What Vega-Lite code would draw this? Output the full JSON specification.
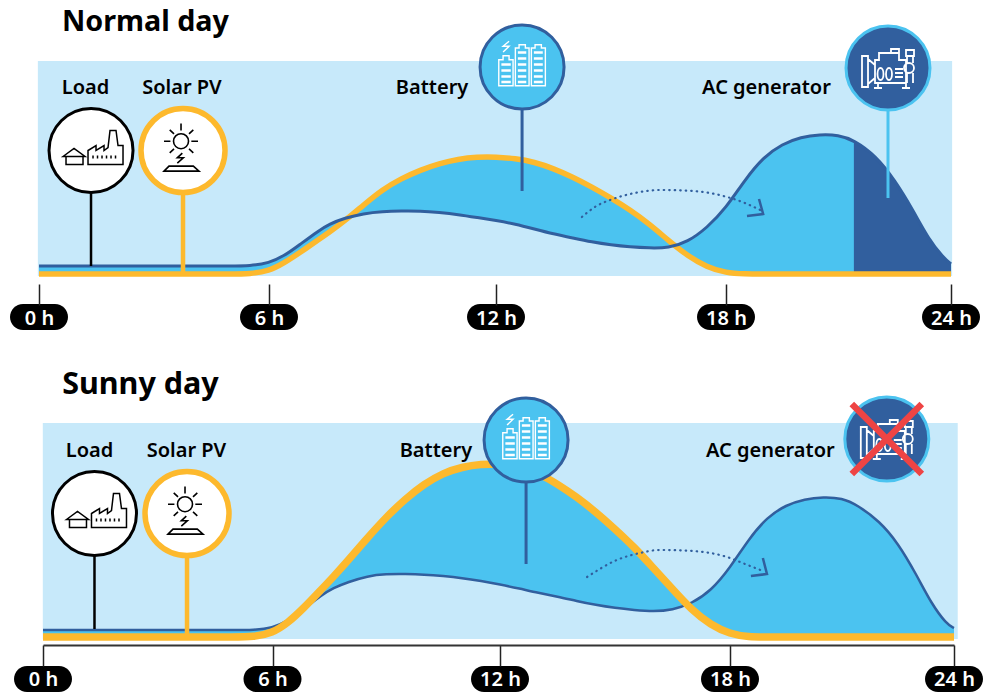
{"$schema":"https://vega.github.io/schema/vega-lite/v6.json","padding":0,"spacing":62,"bounds":"flush","background":"white","config":{"view":{"stroke":null}},
"datasets":{
"normal":[{"hour":0,"load":8,"solar":0},{"hour":1,"load":8,"solar":0},{"hour":2,"load":8,"solar":0},{"hour":3,"load":8,"solar":0},{"hour":4,"load":8,"solar":0},{"hour":5,"load":8,"solar":0},{"hour":5.5,"load":8,"solar":0},{"hour":6,"load":11,"solar":3},{"hour":6.4,"load":18,"solar":11},{"hour":6.8,"load":29,"solar":21},{"hour":7.3,"load":43,"solar":34},{"hour":7.6,"load":50,"solar":42},{"hour":8,"load":56,"solar":53},{"hour":8.5,"load":60.5,"solar":69},{"hour":9,"load":62.5,"solar":84.5},{"hour":9.5,"load":63,"solar":95.5},{"hour":10,"load":63,"solar":104},{"hour":10.5,"load":61.5,"solar":110.5},{"hour":11,"load":59.5,"solar":115},{"hour":11.5,"load":56.5,"solar":117},{"hour":12,"load":53.5,"solar":117},{"hour":12.5,"load":50,"solar":115.5},{"hour":13,"load":45,"solar":112},{"hour":13.5,"load":40,"solar":105.5},{"hour":14,"load":36,"solar":97},{"hour":14.5,"load":32,"solar":87},{"hour":15,"load":29,"solar":76},{"hour":15.5,"load":27,"solar":64},{"hour":16,"load":26,"solar":50},{"hour":16.5,"load":26,"solar":33.5},{"hour":17,"load":32,"solar":18},{"hour":17.5,"load":46,"solar":7},{"hour":18,"load":66,"solar":1},{"hour":18.5,"load":94,"solar":0},{"hour":19,"load":117,"solar":0},{"hour":19.5,"load":130,"solar":0},{"hour":20,"load":137,"solar":0},{"hour":20.5,"load":139.5,"solar":0},{"hour":21,"load":139,"solar":0},{"hour":21.41,"load":134,"solar":0},{"hour":22,"load":118,"solar":0},{"hour":22.5,"load":94,"solar":0},{"hour":23,"load":63,"solar":0},{"hour":23.4,"load":35,"solar":0},{"hour":23.8,"load":16,"solar":0},{"hour":24,"load":10,"solar":0}],
"sunny":[{"hour":0,"load":7,"solar":0},{"hour":1,"load":7,"solar":0},{"hour":2,"load":7,"solar":0},{"hour":3,"load":7,"solar":0},{"hour":4,"load":7,"solar":0},{"hour":5,"load":7,"solar":0},{"hour":5.5,"load":7,"solar":0},{"hour":6,"load":9,"solar":4},{"hour":6.4,"load":16,"solar":14},{"hour":6.8,"load":27,"solar":28},{"hour":7.3,"load":42,"solar":48},{"hour":7.6,"load":49,"solar":60},{"hour":8,"load":55,"solar":77},{"hour":8.5,"load":61,"solar":99},{"hour":9,"load":63,"solar":120},{"hour":9.5,"load":63,"solar":138},{"hour":10,"load":62.5,"solar":153},{"hour":10.5,"load":61,"solar":164},{"hour":11,"load":59,"solar":170},{"hour":11.5,"load":56,"solar":173},{"hour":12,"load":52.5,"solar":173},{"hour":12.5,"load":48.5,"solar":170},{"hour":13,"load":44,"solar":164},{"hour":13.5,"load":40.5,"solar":153},{"hour":14,"load":36,"solar":140},{"hour":14.5,"load":32,"solar":125},{"hour":15,"load":29,"solar":108},{"hour":15.5,"load":27,"solar":90},{"hour":16,"load":25.5,"solar":69},{"hour":16.5,"load":27,"solar":48},{"hour":17,"load":33.5,"solar":27},{"hour":17.5,"load":46,"solar":12},{"hour":18,"load":69,"solar":3},{"hour":18.5,"load":98,"solar":0},{"hour":19,"load":120,"solar":0},{"hour":19.5,"load":132,"solar":0},{"hour":20,"load":138,"solar":0},{"hour":20.5,"load":140,"solar":0},{"hour":21,"load":139,"solar":0},{"hour":21.41,"load":132,"solar":0},{"hour":22,"load":116,"solar":0},{"hour":22.5,"load":94,"solar":0},{"hour":23,"load":62,"solar":0},{"hour":23.4,"load":33,"solar":0},{"hour":23.8,"load":13,"solar":0},{"hour":24,"load":9,"solar":0}],
"normalCallouts":[{"series":"Load","hour":1.357,"v":123.5,"stemEnd":8},{"series":"Solar PV","hour":3.757,"v":123.5,"stemEnd":0},{"series":"Battery","hour":12.68,"v":207,"stemEnd":83},{"series":"AC generator","hour":22.32,"v":206,"stemEnd":76}],
"sunnyCallouts":[{"series":"Load","hour":1.346,"v":123.5,"stemEnd":8},{"series":"Solar PV","hour":3.765,"v":123.5,"stemEnd":0},{"series":"Battery","hour":12.68,"v":197,"stemEnd":73},{"series":"AC generator","hour":22.2,"v":198,"stemEnd":198}],
"normalLabels":[{"label":"Load","hour":1.213,"v":180},{"label":"Solar PV","hour":3.73,"v":180},{"label":"Battery","hour":10.31,"v":180},{"label":"AC generator","hour":19.08,"v":180}],
"sunnyLabels":[{"label":"Load","hour":1.216,"v":180},{"label":"Solar PV","hour":3.75,"v":180},{"label":"Battery","hour":10.31,"v":180},{"label":"AC generator","hour":19.08,"v":180}],
"normalDots":[{"hour":14.24,"v":57},{"hour":14.58,"v":67},{"hour":15.05,"v":75},{"hour":15.62,"v":81},{"hour":16.28,"v":84},{"hour":17.14,"v":83},{"hour":18.03,"v":77},{"hour":18.5,"v":71},{"hour":18.91,"v":64}],
"sunnyDots":[{"hour":14.27,"v":60},{"hour":15.05,"v":77},{"hour":15.65,"v":84},{"hour":16.17,"v":87},{"hour":17.03,"v":86},{"hour":17.92,"v":80},{"hour":18.4,"v":73},{"hour":18.88,"v":66}],
"normalHead":[{"hour":18.88,"v":75,"o":1},{"hour":18.99,"v":60,"o":2},{"hour":18.56,"v":58,"o":3}],
"sunnyHead":[{"hour":18.88,"v":79,"o":1},{"hour":18.99,"v":63,"o":2},{"hour":18.56,"v":61,"o":3}],
"normalTicks":[{"hour":0,"v":-43},{"hour":6,"v":-43},{"hour":12,"v":-43},{"hour":18,"v":-43},{"hour":24,"v":-43}],
"sunnyTicks":[{"hour":0,"v":-42},{"hour":6,"v":-42},{"hour":12,"v":-42},{"hour":18,"v":-42},{"hour":24,"v":-42}]
},
"vconcat":[
{"width":983,"height":284,
"encoding":{"x":{"field":"hour","type":"quantitative","scale":{"domain":[0,6,12,18,24],"range":[39,269,496,726,951]},"axis":{"values":[0,6,12,18,24],"title":null,"grid":false,"domain":false,"tickColor":"#222222","tickSize":21,"tickWidth":1.5,"labelColor":"white","labelFontSize":20,"labelFont":"Noto Sans","labelFontWeight":600,"labelPadding":3,"labelFlush":false,"labelOverlap":false,"labelBound":false,"labelExpr":"datum.value + ' h'","zindex":1}},"y":{"field":"v","type":"quantitative","axis":null,"scale":{"domain":[-10,274],"range":[284,0]}}},
"layer":[
{"data":{"values":[{"hour":-0.03,"hourEnd":24.03,"v":-2,"vEnd":213}]},"mark":{"type":"rect","color":"#C7E9FA"},"encoding":{"x2":{"field":"hourEnd"},"y2":{"field":"vEnd"}}},
{"data":{"name":"normal"},"mark":{"type":"area","color":"#4BC3F0","interpolate":"basis"},"encoding":{"y":{"field":"load","type":"quantitative","axis":null},"y2":{"field":"solar"}}},
{"data":{"name":"normal"},"transform":[{"filter":"datum.hour >= 21.41"}],"mark":{"type":"area","color":"#315F9E","interpolate":"basis"},"encoding":{"y":{"field":"load","type":"quantitative","axis":null},"y2":{"field":"solar"}}},
{"data":{"name":"normal"},"mark":{"type":"line","color":"#FDB92D","strokeWidth":5.5,"interpolate":"basis"},"encoding":{"y":{"field":"solar","type":"quantitative","axis":null}}},
{"data":{"name":"normal"},"mark":{"type":"line","color":"#315F9E","strokeWidth":3,"interpolate":"basis"},"encoding":{"y":{"field":"load","type":"quantitative","axis":null}}},
{"data":{"name":"normalDots"},"mark":{"type":"line","color":"#315F9E","strokeWidth":2.2,"strokeCap":"round","strokeDash":[0.5,5],"interpolate":"monotone"},"encoding":{}},
{"data":{"name":"normalHead"},"mark":{"type":"line","color":"#315F9E","strokeWidth":2.5},"encoding":{"order":{"field":"o"}}},
{"data":{"name":"normalCallouts"},"mark":{"type":"rule"},"encoding":{"y2":{"field":"stemEnd"},"stroke":{"field":"series","type":"nominal","legend":null,"scale":{"domain":["Load","Solar PV","Battery","AC generator"],"range":["#000000","#FDB92D","#315F9E","#4BC3F0"]}},"size":{"field":"series","type":"nominal","legend":null,"scale":{"type":"ordinal","domain":["Load","Solar PV","Battery","AC generator"],"range":[2.5,4.5,3,3]}}}},
{"data":{"name":"normalCallouts"},"mark":{"type":"point","shape":"circle","filled":true,"opacity":1,"size":7056},"encoding":{"fill":{"field":"series","type":"nominal","legend":null,"scale":{"domain":["Load","Solar PV","Battery","AC generator"],"range":["#FFFFFF","#FFFFFF","#4BC3F0","#315F9E"]}},"stroke":{"field":"series","type":"nominal","legend":null,"scale":{"domain":["Load","Solar PV","Battery","AC generator"],"range":["#000000","#FDB92D","#315F9E","#4BC3F0"]}},"strokeWidth":{"field":"series","type":"nominal","legend":null,"scale":{"type":"ordinal","domain":["Load","Solar PV","Battery","AC generator"],"range":[3,5.5,3,3]}}}},
{"data":{"name":"normalCallouts"},"transform":[{"filter":"datum.series == 'Load'"}],"mark":{"type":"point","size":4,"opacity":1,"color":"#000000","strokeWidth":1.5,"shape":"M-28,6 L-17,-2 L-6,6 Z M-25,6 V14 H-8 V6 M-3,14 V0 L5,-5 V0 L13,-5 V0 L17,-3 L19,-20 H25 L27,-5 H32 V14 Z M2,5 V8 M6.500,5 V8 M11,5 V8 M15.500,5 V8 M20,5 V8 M24.500,5 V8"}},
{"data":{"name":"normalCallouts"},"transform":[{"filter":"datum.series == 'Solar PV'"}],"mark":{"type":"point","size":4,"opacity":1,"color":"#000000","strokeWidth":1.6,"shape":"M5.500,-9.300 A7.500,7.500 0 1 1 -9.500,-9.300 A7.500,7.500 0 1 1 5.500,-9.300 M-2,-27 V-20 M-19,-9.300 H-12.600 M8.300,-9.300 H15 M-13.300,-20.600 L-9,-16.600 M10.300,-20.600 L6,-16.600 M-13.300,2.300 L-9,-1.600 M10.300,2.300 L6,-1.600 M-0.700,2.600 L-5.700,7.300 H0.300 L-5.700,12.600 M-19,20.600 L-14,15.600 H10.300 L16,20.600 Z"}},
{"data":{"name":"normalCallouts"},"transform":[{"filter":"datum.series == 'Battery'"}],"mark":{"type":"point","size":4,"opacity":1,"color":"#FFFFFF","strokeWidth":1.4,"shape":"M-23.300,-7.300 H-19 V-11.300 H-13 V-7.300 H-9 V18.700 H-23.300 Z M-6.700,-19 H-3 V-22.300 H3.300 V-19 H7 V18.700 H-6.700 Z M9.300,-19 H13 V-22.300 H19.300 V-19 H23.300 V18.700 H9.300 Z M-13,-25.700 L-19,-20.700 H-13 L-19,-15 M-20,-3 H-12 V-2 H-20 Z M-20,3 H-12 V4 H-20 Z M-20,9 H-12 V10 H-20 Z M-20,14.500 H-12 V15.500 H-20 Z M-3.500,-15 H3.500 V-14 H-3.500 Z M-3.500,-9 H3.500 V-8 H-3.500 Z M-3.500,-3 H3.500 V-2 H-3.500 Z M-3.500,3 H3.500 V4 H-3.500 Z M-3.500,9 H3.500 V10 H-3.500 Z M-3.500,14.500 H3.500 V15.500 H-3.500 Z M12.500,-15 H20 V-14 H12.500 Z M12.500,-9 H20 V-8 H12.500 Z M12.500,-3 H20 V-2 H12.500 Z M12.500,3 H20 V4 H12.500 Z M12.500,9 H20 V10 H12.500 Z M12.500,14.500 H20 V15.500 H12.500 Z"}},
{"data":{"name":"normalCallouts"},"transform":[{"filter":"datum.series == 'AC generator'"}],"mark":{"type":"point","size":4,"opacity":1,"color":"#FFFFFF","strokeWidth":1.8,"shape":"M-26,-12 H-20 V19 H-26 Z M-20,-9 L-13,-3 V10 L-20,16 M-13,-8 H-9 V-15 H11 V-8 H18 V15 H-13 Z M3,-15 V-19 H11 V-15 M18,-18 H26 V-12 H18 Z M19,-12 V-5 M25,-12 V-5 M19,5 V15 M25,5 V15 M26,0 A5,5 0 1 1 16,0 A5,5 0 1 1 26,0 M-4.500,6 A3,6 0 1 1 -10.500,6 A3,6 0 1 1 -4.500,6 M4,6 A3,6 0 1 1 -2,6 A3,6 0 1 1 4,6 M7,1 H15 M7,5 H15 M7,9 H15 M-10,15 V19 M-14,20 H-6 M18,15 V19 M14,20 H22"}},
{"data":{"name":"normalTicks"},"mark":{"type":"point","size":4,"filled":true,"opacity":1,"color":"#000000","strokeWidth":0,"shape":"M-16,-13 H16 A13,13 0 0 1 16,13 H-16 A13,13 0 0 1 -16,-13 Z"}},
{"data":{"name":"normalLabels"},"mark":{"type":"text","font":"Noto Sans","fontSize":20,"fontWeight":600,"color":"#000000","align":"center","baseline":"alphabetic"},"encoding":{"text":{"field":"label"}}},
{"data":{"values":[{"label":"Normal day","hour":0.6,"v":243}]},"mark":{"type":"text","font":"Noto Sans","fontSize":28.7,"fontWeight":"bold","color":"#000000","align":"left","baseline":"alphabetic"},"encoding":{"text":{"field":"label"}}}
]},
{"width":983,"height":299,
"encoding":{"x":{"field":"hour","type":"quantitative","scale":{"domain":[0,6,12,18,24],"range":[43,272.5,500,730,954]},"axis":{"values":[0,6,12,18,24],"title":null,"grid":false,"domain":true,"domainColor":"#333333","domainWidth":2,"tickColor":"#222222","tickSize":21,"tickWidth":1.5,"labelColor":"white","labelFontSize":20,"labelFont":"Noto Sans","labelFontWeight":600,"labelPadding":3,"labelFlush":false,"labelOverlap":false,"labelBound":false,"labelExpr":"datum.value + ' h'","zindex":1}},"y":{"field":"v","type":"quantitative","axis":null,"scale":{"domain":[-8,291],"range":[299,0]}}},
"layer":[
{"data":{"values":[{"hour":-0.005,"hourEnd":24.1,"v":-2,"vEnd":214}]},"mark":{"type":"rect","color":"#C7E9FA"},"encoding":{"x2":{"field":"hourEnd"},"y2":{"field":"vEnd"}}},
{"data":{"name":"sunny"},"mark":{"type":"area","color":"#4BC3F0","interpolate":"basis"},"encoding":{"y":{"field":"load","type":"quantitative","axis":null},"y2":{"field":"solar"}}},
{"data":{"name":"sunny"},"mark":{"type":"line","color":"#315F9E","strokeWidth":2.5,"interpolate":"basis"},"encoding":{"y":{"field":"load","type":"quantitative","axis":null}}},
{"data":{"name":"sunny"},"mark":{"type":"line","color":"#FDB92D","strokeWidth":7.5,"interpolate":"basis"},"encoding":{"y":{"field":"solar","type":"quantitative","axis":null}}},
{"data":{"name":"sunnyDots"},"mark":{"type":"line","color":"#315F9E","strokeWidth":2.2,"strokeCap":"round","strokeDash":[0.5,5],"interpolate":"monotone"},"encoding":{}},
{"data":{"name":"sunnyHead"},"mark":{"type":"line","color":"#315F9E","strokeWidth":2.5},"encoding":{"order":{"field":"o"}}},
{"data":{"name":"sunnyCallouts"},"mark":{"type":"rule"},"encoding":{"y2":{"field":"stemEnd"},"stroke":{"field":"series","type":"nominal","legend":null,"scale":{"domain":["Load","Solar PV","Battery","AC generator"],"range":["#000000","#FDB92D","#315F9E","#4BC3F0"]}},"size":{"field":"series","type":"nominal","legend":null,"scale":{"type":"ordinal","domain":["Load","Solar PV","Battery","AC generator"],"range":[2.5,7,3,3]}}}},
{"data":{"name":"sunnyCallouts"},"mark":{"type":"point","shape":"circle","filled":true,"opacity":1,"size":7056},"encoding":{"fill":{"field":"series","type":"nominal","legend":null,"scale":{"domain":["Load","Solar PV","Battery","AC generator"],"range":["#FFFFFF","#FFFFFF","#4BC3F0","#315F9E"]}},"stroke":{"field":"series","type":"nominal","legend":null,"scale":{"domain":["Load","Solar PV","Battery","AC generator"],"range":["#000000","#FDB92D","#315F9E","#4BC3F0"]}},"strokeWidth":{"field":"series","type":"nominal","legend":null,"scale":{"type":"ordinal","domain":["Load","Solar PV","Battery","AC generator"],"range":[3,7,3,3]}}}},
{"data":{"name":"sunnyCallouts"},"transform":[{"filter":"datum.series == 'Load'"}],"mark":{"type":"point","size":4,"opacity":1,"color":"#000000","strokeWidth":1.5,"shape":"M-28,6 L-17,-2 L-6,6 Z M-25,6 V14 H-8 V6 M-3,14 V0 L5,-5 V0 L13,-5 V0 L17,-3 L19,-20 H25 L27,-5 H32 V14 Z M2,5 V8 M6.500,5 V8 M11,5 V8 M15.500,5 V8 M20,5 V8 M24.500,5 V8"}},
{"data":{"name":"sunnyCallouts"},"transform":[{"filter":"datum.series == 'Solar PV'"}],"mark":{"type":"point","size":4,"opacity":1,"color":"#000000","strokeWidth":1.6,"shape":"M5.500,-9.300 A7.500,7.500 0 1 1 -9.500,-9.300 A7.500,7.500 0 1 1 5.500,-9.300 M-2,-27 V-20 M-19,-9.300 H-12.600 M8.300,-9.300 H15 M-13.300,-20.600 L-9,-16.600 M10.300,-20.600 L6,-16.600 M-13.300,2.300 L-9,-1.600 M10.300,2.300 L6,-1.600 M-0.700,2.600 L-5.700,7.300 H0.300 L-5.700,12.600 M-19,20.600 L-14,15.600 H10.300 L16,20.600 Z"}},
{"data":{"name":"sunnyCallouts"},"transform":[{"filter":"datum.series == 'Battery'"}],"mark":{"type":"point","size":4,"opacity":1,"color":"#FFFFFF","strokeWidth":1.4,"shape":"M-23.300,-7.300 H-19 V-11.300 H-13 V-7.300 H-9 V18.700 H-23.300 Z M-6.700,-19 H-3 V-22.300 H3.300 V-19 H7 V18.700 H-6.700 Z M9.300,-19 H13 V-22.300 H19.300 V-19 H23.300 V18.700 H9.300 Z M-13,-25.700 L-19,-20.700 H-13 L-19,-15 M-20,-3 H-12 V-2 H-20 Z M-20,3 H-12 V4 H-20 Z M-20,9 H-12 V10 H-20 Z M-20,14.500 H-12 V15.500 H-20 Z M-3.500,-15 H3.500 V-14 H-3.500 Z M-3.500,-9 H3.500 V-8 H-3.500 Z M-3.500,-3 H3.500 V-2 H-3.500 Z M-3.500,3 H3.500 V4 H-3.500 Z M-3.500,9 H3.500 V10 H-3.500 Z M-3.500,14.500 H3.500 V15.500 H-3.500 Z M12.500,-15 H20 V-14 H12.500 Z M12.500,-9 H20 V-8 H12.500 Z M12.500,-3 H20 V-2 H12.500 Z M12.500,3 H20 V4 H12.500 Z M12.500,9 H20 V10 H12.500 Z M12.500,14.500 H20 V15.500 H12.500 Z"}},
{"data":{"name":"sunnyCallouts"},"transform":[{"filter":"datum.series == 'AC generator'"}],"mark":{"type":"point","size":4,"opacity":1,"color":"#FFFFFF","strokeWidth":1.8,"shape":"M-26,-12 H-20 V19 H-26 Z M-20,-9 L-13,-3 V10 L-20,16 M-13,-8 H-9 V-15 H11 V-8 H18 V15 H-13 Z M3,-15 V-19 H11 V-15 M18,-18 H26 V-12 H18 Z M19,-12 V-5 M25,-12 V-5 M19,5 V15 M25,5 V15 M26,0 A5,5 0 1 1 16,0 A5,5 0 1 1 26,0 M-4.500,6 A3,6 0 1 1 -10.500,6 A3,6 0 1 1 -4.500,6 M4,6 A3,6 0 1 1 -2,6 A3,6 0 1 1 4,6 M7,1 H15 M7,5 H15 M7,9 H15 M-10,15 V19 M-14,20 H-6 M18,15 V19 M14,20 H22"}},
{"data":{"name":"sunnyCallouts"},"transform":[{"filter":"datum.series == 'AC generator'"}],"mark":{"type":"point","size":4,"opacity":1,"color":"#EE4444","strokeWidth":6.5,"shape":"M-35,-35 L35,35 M-35,35 L35,-35"}},
{"data":{"name":"sunnyTicks"},"mark":{"type":"point","size":4,"filled":true,"opacity":1,"color":"#000000","strokeWidth":0,"shape":"M-16,-13 H16 A13,13 0 0 1 16,13 H-16 A13,13 0 0 1 -16,-13 Z"}},
{"data":{"name":"sunnyLabels"},"mark":{"type":"text","font":"Noto Sans","fontSize":20,"fontWeight":600,"color":"#000000","align":"center","baseline":"alphabetic"},"encoding":{"text":{"field":"label"}}},
{"data":{"values":[{"label":"Sunny day","hour":0.5,"v":243}]},"mark":{"type":"text","font":"Noto Sans","fontSize":30.5,"fontWeight":"bold","color":"#000000","align":"left","baseline":"alphabetic"},"encoding":{"text":{"field":"label"}}}
]}
]}
